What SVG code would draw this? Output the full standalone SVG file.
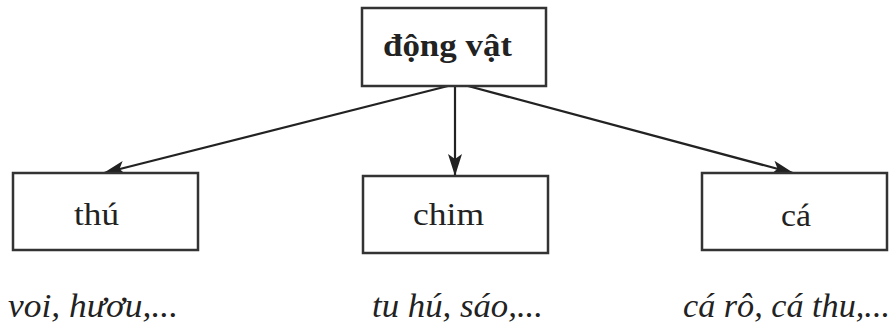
<svg xmlns="http://www.w3.org/2000/svg" width="893" height="325" viewBox="0 0 893 325">
<style>
.box{fill:#fff;stroke:#333;stroke-width:2.5}
.lbl{font-family:"Liberation Serif","DejaVu Serif",serif;font-size:32px;fill:#222}
.ex{font-family:"Liberation Serif","DejaVu Serif",serif;font-size:33px;font-style:italic;fill:#222}
.edge{stroke:#222;stroke-width:2.2;fill:none;marker-end:url(#ah)}
</style>
<defs>
<marker id="ah" markerWidth="22" markerHeight="14" refX="21" refY="7" orient="auto" markerUnits="userSpaceOnUse">
<path d="M0,0 L22,7 L0,14 L5,7 Z" fill="#222"/>
</marker>
</defs>
<rect width="893" height="325" fill="#fff"/>
<g id="connectors">
<line class="edge" x1="448" y1="86" x2="104" y2="173"/>
<line class="edge" x1="455" y1="86" x2="455" y2="175"/>
<line class="edge" x1="468" y1="86" x2="793" y2="173"/>
</g>
<g id="dongvat">
<rect class="box" x="362" y="8" width="184" height="78"/>
<text class="lbl" x="383" y="56" font-weight="bold" textLength="129" lengthAdjust="spacingAndGlyphs">động vật</text>
</g>
<g id="thu">
<rect class="box" x="13" y="173" width="185" height="77"/>
<text class="lbl" x="74" y="225" textLength="45" lengthAdjust="spacingAndGlyphs">thú</text>
<text class="ex" x="8" y="317" textLength="170" lengthAdjust="spacingAndGlyphs">voi, hươu,...</text>
</g>
<g id="chim">
<rect class="box" x="363" y="176" width="185" height="77"/>
<text class="lbl" x="413" y="225" textLength="71" lengthAdjust="spacingAndGlyphs">chim</text>
<text class="ex" x="372" y="317" textLength="171" lengthAdjust="spacingAndGlyphs">tu hú, sáo,...</text>
</g>
<g id="ca">
<rect class="box" x="702" y="173" width="185" height="77"/>
<text class="lbl" x="781" y="226" textLength="30" lengthAdjust="spacingAndGlyphs">cá</text>
<text class="ex" x="683" y="317" textLength="207" lengthAdjust="spacingAndGlyphs">cá rô, cá thu,...</text>
</g>
</svg>
